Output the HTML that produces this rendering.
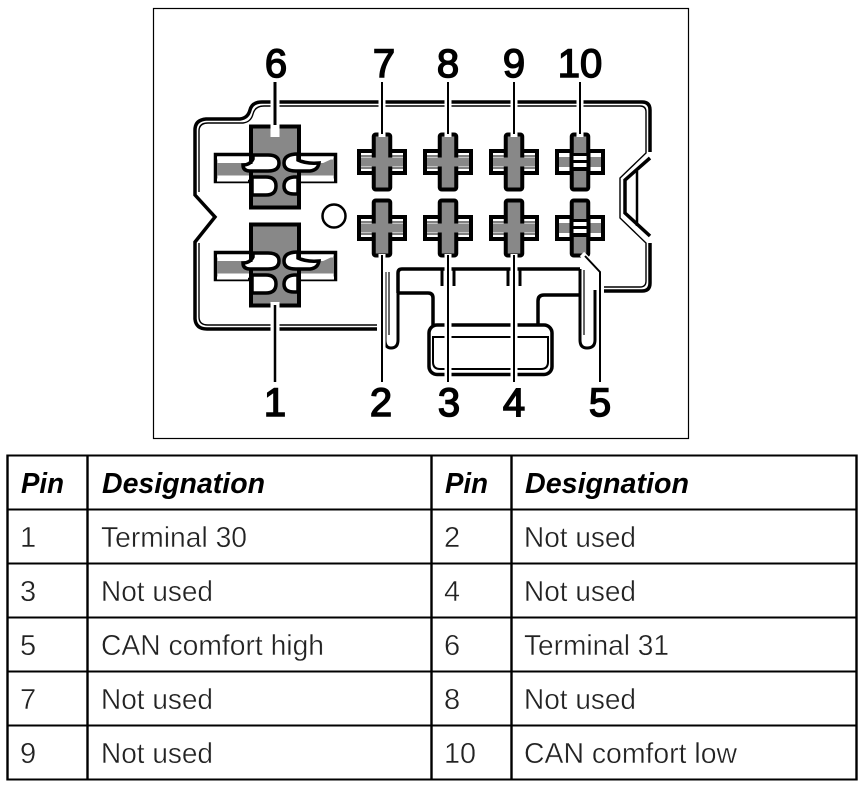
<!DOCTYPE html>
<html><head><meta charset="utf-8"><style>
html,body{margin:0;padding:0;background:#fff;width:865px;height:787px;overflow:hidden}
svg{display:block}
.n{font-family:"Liberation Sans",sans-serif;font-size:40px;fill:#000;stroke:#000;stroke-width:1.500;text-anchor:middle}
.h{font-family:"Liberation Sans",sans-serif;font-size:29px;font-weight:bold;font-style:italic;fill:#000}
.t{font-family:"Liberation Sans",sans-serif;font-size:29px;fill:#222;stroke:#fff;stroke-width:.4;paint-order:fill stroke}
</style></head><body>
<svg width="865" height="787" viewBox="0 0 865 787" xmlns="http://www.w3.org/2000/svg">
<defs>
<g id="big">
<rect x="215.500" y="154.500" width="120" height="27" fill="#fff" stroke="#000" stroke-width="3.500"/>
<rect x="217" y="163" width="117" height="12.500" fill="#888"/>
<rect x="251" y="126.500" width="48" height="81" fill="#888" stroke="#000" stroke-width="4"/>
<path d="M253 155H268Q279 155 279 163Q279 171 268 171H250Q243 171 243 165Q250 165 253 159Z" fill="#fff" stroke="#000" stroke-width="3.500"/>
<path d="M298 154Q284 154 284 163Q284 171 296 171H310Q318 170 319 163Q306 164 298 160Z" fill="#fff" stroke="#000" stroke-width="3.500"/>
<path d="M252 177H266Q276 177 276 186Q276 195 266 195H252Z" fill="#fff" stroke="#000" stroke-width="3.500"/>
<path d="M298 177H294Q284 178 284 186Q284 194 294 194H298Z" fill="#fff" stroke="#000" stroke-width="3.500"/>
<path d="M321 164L334 158V175.500H316Z" fill="#888"/>
<path d="M301 158H333M301 180H334M217 158H248M217 180H248" stroke="#fff" stroke-width="3"/>
<path d="M251 158V164M299 176V195" stroke="#000" stroke-width="3"/>
</g>
<g id="cross">
<rect x="-23" y="-11" width="46" height="22" fill="#fff" stroke="#000" stroke-width="4"/>
<rect x="-21" y="-4.500" width="42" height="9" fill="#888"/>
<path d="M-21 -6H21M-21 6H21" stroke="#000" stroke-width="1"/>
<rect x="-8.250" y="-27.500" width="16.500" height="55" rx="2" fill="#888" stroke="#000" stroke-width="4"/>
<rect x="-10.500" y="-4.500" width="21" height="9" fill="#888"/>
</g>
<g id="narrow">
<rect x="-23" y="-11" width="46" height="22" fill="#fff" stroke="#000" stroke-width="4"/>
<rect x="-21" y="-5" width="42" height="10" fill="#888"/>
<rect x="-8.250" y="-27.500" width="16.500" height="55" rx="2" fill="#888" stroke="#000" stroke-width="4"/>
<rect x="-10.500" y="-9" width="21" height="18" fill="#000"/>
<rect x="-6.500" y="-6" width="13" height="4" fill="#fff"/>
<rect x="-6.500" y="1" width="13" height="4" fill="#fff"/>
</g>
</defs>

<rect x="153.500" y="8.500" width="535" height="430" fill="#fff" stroke="#000" stroke-width="1.200"/>

<!-- housing outline: outer -->
<path d="M377 329H207Q196 329 195 319V242L215 217L195 195V130Q195 120 206 119H240Q248 118 250 110Q252 102 262 102H642Q650 102 650 110V152" fill="none" stroke="#000" stroke-width="3.500"/>
<path d="M650 243V283Q650 291 642 291H604" fill="none" stroke="#000" stroke-width="3.500"/>
<!-- housing outline: inner -->
<path d="M377 325H208Q199 325 199 317V243M199 192V131Q199 123 208 123H243Q251 122 253 114Q255 106 264 106H640Q646 106 646 112V153L620 178V218L646 243V281Q646 287 640 287H604" fill="none" stroke="#000" stroke-width="1.400"/>
<path d="M650 158L625 180V213L650 236" fill="none" stroke="#000" stroke-width="3.500"/>
<path d="M637 171V226" stroke="#000" stroke-width="2.500"/>

<!-- inner latch -->
<path d="M398 293V273Q398 269 402 269H580" fill="none" stroke="#000" stroke-width="3.500"/>
<path d="M398 293H428Q433 293 433 298V325" fill="none" stroke="#000" stroke-width="3.500"/>
<path d="M580 295H544Q538 295 538 301V325" fill="none" stroke="#000" stroke-width="3.500"/>
<path d="M385 272V340Q385 348 391 348Q398 348 398 340V293" fill="none" stroke="#000" stroke-width="3"/>
<path d="M389 272V335" stroke="#000" stroke-width="1.200"/>
<path d="M580 269V340Q580 348 587 348Q595 348 595 340V290" fill="none" stroke="#000" stroke-width="3"/>
<path d="M584 270V335" stroke="#000" stroke-width="1.200"/>
<path d="M442 270V286M454 270V286M508 270V286M520 270V286" stroke="#000" stroke-width="3"/>
<rect x="429" y="325" width="123" height="49.500" rx="8" fill="#fff" stroke="#000" stroke-width="3.500"/>
<path d="M433 337H548V362Q548 369 541 369H440Q433 369 433 362Z" fill="none" stroke="#000" stroke-width="2"/>

<!-- connectors -->
<use href="#big"/>
<use href="#big" y="98"/>
<use href="#cross" x="382" y="162"/>
<use href="#cross" x="448" y="162"/>
<use href="#cross" x="514" y="162"/>
<use href="#narrow" x="580" y="162"/>
<use href="#cross" x="382" y="228"/>
<use href="#cross" x="448" y="228"/>
<use href="#cross" x="514" y="228"/>
<use href="#narrow" x="580" y="228"/>
<circle cx="334" cy="216" r="11.500" fill="#fff" stroke="#000" stroke-width="2.500"/>

<!-- leaders white halo -->
<g stroke="#fff" fill="none">
<path d="M275 95V137" stroke-width="9"/>
<path d="M382 95V137M448 95V137M514 95V137M580 95V137" stroke-width="7"/>
<path d="M275 302V338" stroke-width="9"/>
<path d="M382 254V385M448 254V385M514 254V385" stroke-width="7"/>
<path d="M582 254L600 272V296" stroke-width="6"/>
</g>
<!-- leaders black -->
<g stroke="#000" fill="none">
<path d="M275 82V125" stroke-width="3"/>
<path d="M382 82V134M448 82V134M514 82V134M580 82V134" stroke-width="2"/>
<path d="M275 305V382" stroke-width="2.500"/>
<path d="M382 255V382M448 255V382M514 255V382" stroke-width="2"/>
<path d="M585 256L600 272V382" stroke-width="2"/>
</g>

<!-- numbers -->
<text class="n" x="276" y="77">6</text>
<text class="n" x="384" y="77">7</text>
<text class="n" x="448" y="77">8</text>
<text class="n" x="514" y="77">9</text>
<text class="n" x="580" y="77">10</text>
<text class="n" x="275" y="416">1</text>
<text class="n" x="381" y="416">2</text>
<text class="n" x="449" y="416">3</text>
<text class="n" x="514" y="416">4</text>
<text class="n" x="600" y="416">5</text>

<!-- table -->
<g stroke="#000" fill="none">
<path d="M7 455.500H857M7 509.500H857M7 563.500H857M7 617.500H857M7 671.500H857M7 725.500H857M7 779.500H857" stroke-width="2"/>
<path d="M7.500 454.500V780.500M87.500 454.500V780.500M431.500 454.500V780.500M511.500 454.500V780.500M856.500 454.500V780.500" stroke-width="2.400"/>
</g>
<text class="h" x="21" y="493" textLength="43" lengthAdjust="spacingAndGlyphs">Pin</text>
<text class="h" x="102" y="493" textLength="163" lengthAdjust="spacingAndGlyphs">Designation</text>
<text class="h" x="445" y="493" textLength="43" lengthAdjust="spacingAndGlyphs">Pin</text>
<text class="h" x="525" y="493" textLength="164" lengthAdjust="spacingAndGlyphs">Designation</text>

<g lengthAdjust="spacingAndGlyphs">
<text class="t" x="20" y="547">1</text><text class="t" x="101" y="547" textLength="146" lengthAdjust="spacingAndGlyphs">Terminal 30</text>
<text class="t" x="444" y="547">2</text><text class="t" x="524" y="547" textLength="112" lengthAdjust="spacingAndGlyphs">Not used</text>
<text class="t" x="20" y="601">3</text><text class="t" x="101" y="601" textLength="112" lengthAdjust="spacingAndGlyphs">Not used</text>
<text class="t" x="444" y="601">4</text><text class="t" x="524" y="601" textLength="112" lengthAdjust="spacingAndGlyphs">Not used</text>
<text class="t" x="20" y="655">5</text><text class="t" x="101" y="655" textLength="223" lengthAdjust="spacingAndGlyphs">CAN comfort high</text>
<text class="t" x="444" y="655">6</text><text class="t" x="524" y="655" textLength="145" lengthAdjust="spacingAndGlyphs">Terminal 31</text>
<text class="t" x="20" y="709">7</text><text class="t" x="101" y="709" textLength="112" lengthAdjust="spacingAndGlyphs">Not used</text>
<text class="t" x="444" y="709">8</text><text class="t" x="524" y="709" textLength="112" lengthAdjust="spacingAndGlyphs">Not used</text>
<text class="t" x="20" y="763">9</text><text class="t" x="101" y="763" textLength="112" lengthAdjust="spacingAndGlyphs">Not used</text>
<text class="t" x="444" y="763" textLength="32" lengthAdjust="spacingAndGlyphs">10</text><text class="t" x="524" y="763" textLength="213" lengthAdjust="spacingAndGlyphs">CAN comfort low</text>
</g>
</svg>
</body></html>
